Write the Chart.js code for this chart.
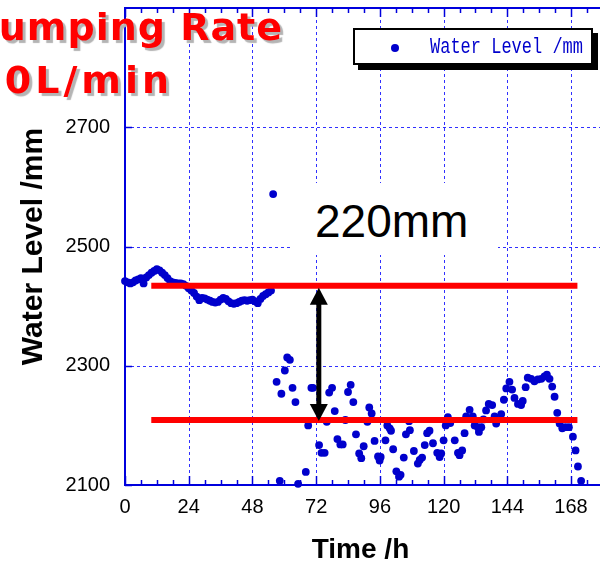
<!DOCTYPE html>
<html>
<head>
<meta charset="utf-8">
<script src="https://cdn.jsdelivr.net/npm/chart.js@4.4.1/dist/chart.umd.min.js"></script>
<style>
  body { margin: 0; background: #fff; }
  #wrap { position: relative; width: 600px; height: 567px; overflow: hidden; }
  #chart { position: absolute; left: 0; top: 0; }
  .title { position: absolute; font-family: 'DejaVu Sans', sans-serif; font-weight: bold; font-size: 38px;
           line-height: 1; color: #ff0000; text-shadow: 3px 3px 1px #b4b4b4; white-space: nowrap; }
  #legend { position: absolute; left: 353px; top: 28px; width: 240px; height: 37px; box-sizing: border-box;
            background: #fff; border: 2px solid #000; box-shadow: 5px 5px 0 #000; }
  #legend .dot { position: absolute; left: 36px; top: 14px; width: 8px; height: 8px; border-radius: 50%; background: #0000cc; }
  #legend .txt { position: absolute; left: 75px; top: 6px; font-family: 'Liberation Mono', monospace; font-size: 17px;
                 line-height: 1; color: #0000cc; white-space: nowrap; transform: scaleY(1.3); transform-origin: 0 0; }
  #gap { position: absolute; left: 293px; top: 183px; width: 205px; height: 72px; background: #fff; }
  #gap span { position: absolute; left: 22px; top: 15px; font-family: 'Liberation Sans', Arial, sans-serif;
              font-size: 46px; line-height: 1; color: #000; white-space: nowrap; }
</style>
</head>
<body>
<div id="wrap">
  <canvas id="chart" width="600" height="567"></canvas>
  <div class="title" style="right:317px; top:8px; letter-spacing:1px;">Pumping Rate</div>
  <div class="title" style="right:427px; top:61px; letter-spacing:4px;">0L/min</div>
  <div id="legend"><span class="dot"></span><span class="txt">Water Level /mm</span></div>
  <div id="gap"><span>220mm</span></div>
</div>
<script>
"use strict";

// time (h) of each reading
const hours = [
    0, 1, 2, 3, 4, 5, 6, 7, 8, 9, 10, 11, 12, 13, 14, 15, 16, 17, 18, 19,
    20, 21, 22, 23, 24, 25, 26, 27, 28, 29, 30, 31, 32, 33, 34, 35, 36, 37, 38, 39,
    40, 41, 42, 43, 44, 45, 46, 47, 48, 49, 50, 51, 52, 53, 54, 55,
    55.8,
    57.1, 58.3, 58.9, 60.2, 61.1, 62.1, 63.1, 64.2, 65.2, 68.1, 69.0, 70.2, 70.8,
    73.1, 74.0, 75.2, 76.0, 76.9, 78.0, 79.0, 80.0, 81.1, 82.0, 83.0, 84.0, 85.0,
    86.0, 87.0, 88.2, 89.0, 89.9, 91.3, 92.0, 92.9, 94.0, 95.3, 95.9, 96.3, 98.1,
    98.8, 99.7, 100.2, 101.0, 102.2, 103.2, 103.8, 105.0, 105.8, 107.0, 107.3, 108.8,
    110.3, 111.0, 111.9, 112.9, 113.8, 114.7, 116.0, 117.6, 118.5, 119.1, 120.0,
    120.8, 121.6, 122.5, 124.2, 125.4, 126.0, 127.0, 127.9, 128.5, 129.8, 131.0,
    131.7, 132.9, 133.3, 134.2, 135.0, 136.0, 137.0, 138.3, 139.2, 139.8, 141.7,
    142.7, 143.6, 144.8, 145.8, 146.7, 148.0, 149.2, 149.8, 150.9, 151.7, 153.0,
    154.2, 155.5, 156.8, 158.0, 158.9, 159.9, 160.9, 161.8, 162.8, 163.7, 164.7,
    165.9, 167.2, 168.7, 169.7, 170.6, 171.8
];
// water level (mm) of each reading
const levels = [
    2442, 2440, 2438, 2440, 2443, 2445, 2447, 2438, 2448, 2452, 2456, 2459, 2462, 2460, 2456, 2452, 2447, 2442, 2440, 2439,
    2438, 2438, 2437, 2434, 2430, 2426, 2422, 2416, 2410, 2414, 2413, 2411, 2409, 2407, 2406, 2407, 2411, 2414, 2412, 2408,
    2405, 2404, 2405, 2407, 2409, 2410, 2409, 2410, 2411, 2408, 2405, 2412, 2417, 2420, 2423, 2426,
    2588,
    2273, 2107, 2253, 2292, 2314, 2310, 2263, 2239, 2102, 2122, 2200, 2263, 2263,
    2167, 2154, 2154, 2206, 2255, 2263, 2224, 2177, 2168, 2168, 2209, 2256, 2268,
    2239, 2185, 2153, 2145, 2165, 2206, 2230, 2220, 2174, 2148, 2141, 2147, 2175,
    2200, 2195, 2191, 2160, 2123, 2114, 2117, 2146, 2185, 2207, 2192, 2157,
    2136, 2142, 2146, 2167, 2187, 2191, 2170, 2154, 2147, 2153, 2175,
    2200, 2214, 2204, 2175, 2154, 2150, 2158, 2187, 2215, 2226, 2215,
    2200, 2197, 2189, 2197, 2210, 2225, 2236, 2234, 2215, 2203, 2219,
    2243, 2262, 2273, 2260, 2246, 2236, 2234, 2241, 2264, 2280, 2278,
    2274, 2277, 2278, 2282, 2285, 2278, 2265, 2248, 2221, 2203, 2195,
    2197, 2197, 2181, 2158, 2131, 2107
];

const xTickHours = [0, 24, 48, 72, 96, 120, 144, 168];
const yTickLevels = [2100, 2300, 2500, 2700];
const xRange = [0, 177.4];
const yRange = [2100, 2900];

// red reference lines and the arrow between them
const refLineHours = [9.9, 170.4];
const upperLevel = 2434;
const lowerLevel = 2209;
const arrowHour = 73;

const axisBlue = "#0000dd";
const gridBlue = "#3030ff";
const dotBlue = "#0000cc";

function line(ctx, x1, y1, x2, y2) {
    ctx.beginPath();
    ctx.moveTo(x1, y1);
    ctx.lineTo(x2, y2);
    ctx.stroke();
}

const frame = {
    id: "frame",
    beforeDatasetsDraw(chart) {
        const ctx = chart.ctx;
        const a = chart.chartArea;
        const x = chart.scales.x, y = chart.scales.y;
        ctx.save();
        // dashed grid
        ctx.strokeStyle = gridBlue;
        ctx.lineWidth = 1;
        ctx.setLineDash([3, 3]);
        xTickHours.forEach(function(h) {
            if (h === xRange[0]) return;
            let px = Math.round(x.getPixelForValue(h)) + 0.5;
            line(ctx, px, a.top, px, a.bottom);
        });
        yTickLevels.forEach(function(v) {
            if (v === yRange[0]) return;
            let py = Math.round(y.getPixelForValue(v)) + 0.5;
            line(ctx, a.left, py, 600, py);
        });
        ctx.setLineDash([]);
        // inward ticks, bottom and top
        ctx.strokeStyle = axisBlue;
        ctx.lineWidth = 1.5;
        for (let h = 0; h <= xRange[1]; h += 6) {
            let px = Math.round(x.getPixelForValue(h)) + 0.5;
            let len = h % 24 === 0 ? 9 : 5;
            line(ctx, px, a.bottom, px, a.bottom - len);
            line(ctx, px, a.top, px, a.top + len);
        }
        yTickLevels.forEach(function(v) {
            let py = Math.round(y.getPixelForValue(v)) + 0.5;
            line(ctx, a.left, py, a.left + 7, py);
        });
        ctx.lineWidth = 2;
        line(ctx, a.left, a.top, 600, a.top);
        line(ctx, a.right, a.bottom, 600, a.bottom);
        ctx.restore();
    },
    afterDatasetsDraw(chart) {
        const ctx = chart.ctx;
        const x = chart.scales.x, y = chart.scales.y;
        let px = x.getPixelForValue(arrowHour);
        let top = y.getPixelForValue(upperLevel) + 2;
        let bot = y.getPixelForValue(lowerLevel) + 1;
        let head = 17, half = 9;
        ctx.save();
        ctx.strokeStyle = "#000";
        ctx.fillStyle = "#000";
        ctx.lineWidth = 5;
        line(ctx, px, top + head - 2, px, bot - head + 2);
        ctx.beginPath();
        ctx.moveTo(px, top);
        ctx.lineTo(px - half, top + head);
        ctx.lineTo(px + half, top + head);
        ctx.closePath();
        ctx.fill();
        ctx.beginPath();
        ctx.moveTo(px, bot);
        ctx.lineTo(px - half, bot - head);
        ctx.lineTo(px + half, bot - head);
        ctx.closePath();
        ctx.fill();
        ctx.restore();
    }
};

const points = hours.map(function(h, i) { return { x: h, y: levels[i] }; });

new Chart(document.getElementById("chart"), {
    type: "scatter",
    data: {
        datasets: [{
            type: "line",
            data: refLineHours.map(function(h) { return { x: h, y: upperLevel }; }),
            borderColor: "#ff0000",
            borderWidth: 6,
            pointRadius: 0,
            borderCapStyle: "butt"
        }, {
            type: "line",
            data: refLineHours.map(function(h) { return { x: h, y: lowerLevel }; }),
            borderColor: "#ff0000",
            borderWidth: 6,
            pointRadius: 0,
            borderCapStyle: "butt"
        }, {
            label: "Water Level /mm",
            data: points,
            backgroundColor: dotBlue,
            borderColor: dotBlue,
            borderWidth: 0,
            pointRadius: 3.9,
            clip: false
        }]
    },
    options: {
        responsive: false,
        devicePixelRatio: 1,
        animation: false,
        layout: { padding: { top: 8, left: 0, right: 0, bottom: 0 } },
        plugins: { legend: { display: false }, tooltip: { enabled: false } },
        scales: {
            x: {
                type: "linear",
                min: xRange[0],
                max: xRange[1],
                afterBuildTicks: function(s) { s.ticks = xTickHours.map(function(v) { return { value: v }; }); },
                afterFit: function(s) { s.height = 82; s.paddingLeft = 0; s.paddingRight = 0; },
                grid: { display: false, drawTicks: false },
                border: { display: true, color: axisBlue, width: 2 },
                ticks: { color: "#000", padding: 10, maxRotation: 0, callback: function(v) { return String(v); },
                         font: { family: "Liberation Sans", size: 20 } },
                title: { display: true, text: "Time /h", color: "#000", padding: { top: 0, bottom: 0 },
                         font: { family: "Liberation Sans", size: 28, weight: "bold" } }
            },
            y: {
                type: "linear",
                min: yRange[0],
                max: yRange[1],
                afterBuildTicks: function(s) { s.ticks = yTickLevels.map(function(v) { return { value: v }; }); },
                afterFit: function(s) { s.width = 125; s.paddingTop = 0; s.paddingBottom = 0; },
                grid: { display: false, drawTicks: false },
                border: { display: true, color: axisBlue, width: 2 },
                ticks: { color: "#000", padding: 15, callback: function(v) { return String(v); },
                         font: { family: "Liberation Sans", size: 20 } },
                title: { display: true, text: "Water Level /mm", color: "#000", padding: { top: 16, bottom: 0 },
                         font: { family: "Liberation Sans", size: 30, weight: "bold" } }
            }
        }
    },
    plugins: [frame]
});
</script>
</body>
</html>
